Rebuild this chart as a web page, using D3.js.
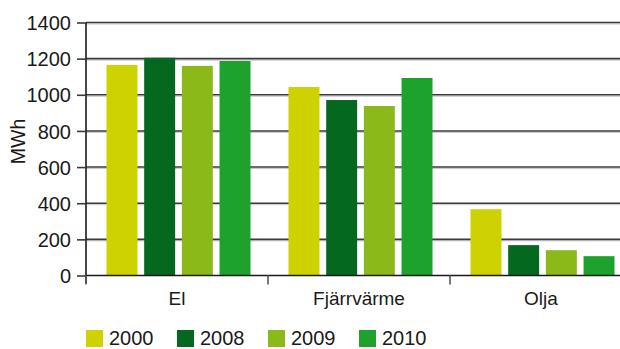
<!DOCTYPE html>
<html><head><meta charset="utf-8">
<script src="https://cdn.jsdelivr.net/npm/d3@7"></script>
<style>body{margin:0;background:#fff}svg{display:block}text{font-family:"Liberation Sans",Arial,sans-serif;fill:#1a1a1a}</style>
</head><body><svg id="c" width="620" height="349"></svg>
<script>
const categories = ["El", "Fjärrvärme", "Olja"];
const seriesNames = ["2000", "2008", "2009", "2010"];
const values2000 = [1165, 1043, 367];
const values2008 = [1205, 971, 168];
const values2009 = [1160, 938, 140];
const values2010 = [1187, 1093, 107];
const yTicks = [0, 200, 400, 600, 800, 1000, 1200, 1400];
const colors = ["#CDD200", "#04691F", "#8BB91A", "#1EA22E"];
const yLabel = "MWh";

(function () {
const series = [values2000, values2008, values2009, values2010];
const svg = d3.select("#c");
const mLeft = 86, mTop = 22.5, mBottom = 275.5, bandW = 182;
const y = d3.scaleLinear().domain([0, 1400]).range([mBottom, mTop]);
const x = d3.scaleBand().domain(["El", "Fjärrvärme", "Olja", "_"]).range([mLeft, mLeft + 4 * bandW]).padding(0);
const xi = d3.scaleBand().domain(seriesNames).range([0, bandW]).paddingInner(0.178).paddingOuter(0.504);

const g = svg.append("g");
yTicks.filter(t => t > 0).forEach(t => {
  g.append("line").attr("x1", mLeft).attr("x2", 620).attr("y1", y(t) + 1.5).attr("y2", y(t) + 1.5).attr("stroke", "#c8c8c8").attr("stroke-width", 1);
  g.append("line").attr("x1", mLeft).attr("x2", 620).attr("y1", y(t)).attr("y2", y(t)).attr("stroke", "#3a3a3a").attr("stroke-width", 1.6);
});

categories.forEach((c, ci) => {
  series.forEach((s, si) => {
    svg.append("rect")
      .attr("x", x(c) + xi(seriesNames[si]) + 1.5)
      .attr("y", y(s[ci]))
      .attr("width", xi.bandwidth())
      .attr("height", y(0) - y(s[ci]))
      .attr("fill", colors[si]);
  });
});

const yAxis = d3.axisLeft(y).tickValues(yTicks).tickFormat(d3.format("d")).tickSize(9).tickPadding(6);
const ya = svg.append("g").attr("transform", `translate(${mLeft},0)`).call(yAxis);
ya.select(".domain").attr("stroke", "#1a1a1a").attr("stroke-width", 1.6).attr("d", `M0,${mTop}V${mBottom + 8}`);
ya.selectAll(".tick line").attr("stroke", "#3a3a3a").attr("stroke-width", 1.6);
ya.selectAll(".tick text").style("font-size", "20px").style("font-family", '"Liberation Sans",Arial,sans-serif').attr("fill", "#1a1a1a").attr("dy", "0.36em");

svg.append("line").attr("x1", mLeft).attr("x2", 620).attr("y1", mBottom).attr("y2", mBottom).attr("stroke", "#1a1a1a").attr("stroke-width", 1.6);
const xa = svg.append("g").attr("transform", `translate(0,${mBottom})`);
["El", "Fjärrvärme", "Olja", "_"].forEach(c => {
  xa.append("line").attr("x1", x(c)).attr("x2", x(c)).attr("y1", 0).attr("y2", 9).attr("stroke", "#555").attr("stroke-width", 1.6);
});
categories.forEach(c => {
  xa.append("text").attr("x", x(c) + bandW / 2).attr("y", 29.5).attr("text-anchor", "middle").style("font-size", "19px").text(c);
});

svg.append("text").attr("transform", `translate(25,141.5) rotate(-90)`).attr("text-anchor", "middle").style("font-size", "19.5px").text(yLabel);

const lg = svg.append("g");
seriesNames.forEach((n, i) => {
  const lx = 86 + i * 91;
  lg.append("rect").attr("x", lx).attr("y", 330).attr("width", 17).attr("height", 17).attr("fill", colors[i]);
  lg.append("text").attr("x", lx + 23).attr("y", 345).style("font-size", "20px").text(n);
});
})();
</script></body></html>
